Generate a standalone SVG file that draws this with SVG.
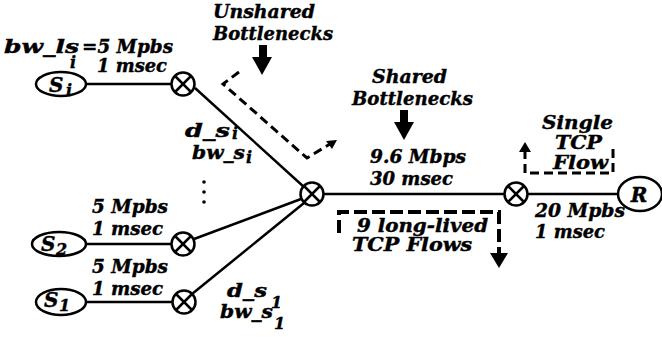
<svg xmlns="http://www.w3.org/2000/svg" width="662" height="337" viewBox="0 0 662 337">
<defs>
<style>
.t{font-family:"DejaVu Serif","Liberation Serif",serif;font-weight:bold;font-style:italic;font-size:18px;fill:#000;stroke:#000;stroke-width:0.4}
.sub{font-family:"DejaVu Serif","Liberation Serif",serif;font-weight:bold;font-style:italic;font-size:16px;fill:#000;stroke:#000;stroke-width:0.4}
.big{font-family:"DejaVu Serif","Liberation Serif",serif;font-weight:bold;font-style:italic;font-size:20px;fill:#000;stroke:#000;stroke-width:0.4}
.ln{stroke:#000;stroke-width:2.5;fill:none}
.node{stroke:#000;stroke-width:2.5;fill:#fff}
.rt{stroke:#000;stroke-width:2.5;fill:#fff}
.x{stroke:#000;stroke-width:2.5}
.dash{stroke:#000;stroke-width:3;fill:none;stroke-dasharray:9 5}
.dash2{stroke:#000;stroke-width:4;fill:none;stroke-dasharray:13 5}
</style>
<g id="router">
<circle class="rt" cx="0" cy="0" r="11.5"/>
<line class="x" x1="-7.5" y1="-7.5" x2="7.5" y2="7.5"/>
<line class="x" x1="7.5" y1="-7.5" x2="-7.5" y2="7.5"/>
</g>
</defs>
<rect width="662" height="337" fill="#fff"/>

<g id="connectors">
<line class="ln" x1="86" y1="84" x2="172" y2="84"/>
<line class="ln" x1="195" y1="88" x2="304" y2="187"/>
<line class="ln" x1="86" y1="244" x2="172" y2="244"/>
<line class="ln" x1="194" y1="239" x2="301" y2="199"/>
<line class="ln" x1="86" y1="302" x2="173" y2="302"/>
<line class="ln" x1="192" y1="294" x2="304" y2="203"/>
<line class="ln" x1="323" y1="194" x2="505" y2="194"/>
<line class="ln" x1="527" y1="194" x2="618" y2="194"/>
</g>

<g id="node-si">
<ellipse class="node" cx="61" cy="84" rx="25" ry="12"/>
<text class="big" x="49" y="92">S</text><text class="sub" x="66" y="96">i</text>
</g>
<g id="node-s2">
<ellipse class="node" cx="59" cy="244" rx="27" ry="12"/>
<text class="big" x="41" y="251">S</text><text class="sub" x="56" y="255">2</text>
</g>
<g id="node-s1">
<ellipse class="node" cx="61" cy="302" rx="25" ry="13"/>
<text class="big" x="44" y="307">S</text><text class="sub" x="59" y="311">1</text>
</g>
<g id="node-r">
<ellipse class="node" cx="640" cy="194" rx="22" ry="17"/>
<text class="big" x="639" y="202" text-anchor="middle">R</text>
</g>

<g id="router-si"><use href="#router" x="183" y="84"/></g>
<g id="router-s2"><use href="#router" x="183" y="244"/></g>
<g id="router-s1"><use href="#router" x="184" y="302"/></g>
<g id="router-c"><use href="#router" x="312" y="194"/></g>
<g id="router-r"><use href="#router" x="516" y="194"/></g>

<g id="dots">
<circle cx="204" cy="182" r="1.8"/>
<circle cx="204" cy="192" r="1.8"/>
<circle cx="204" cy="202" r="1.8"/>
</g>

<g id="unshared">
<text class="t" x="213" y="18" textLength="102" lengthAdjust="spacingAndGlyphs">Unshared</text>
<text class="t" x="213" y="40" textLength="120" lengthAdjust="spacingAndGlyphs">Bottlenecks</text>
<rect x="259" y="45" width="8" height="13"/>
<polygon points="252,57 272,57 262,75"/>
<path class="dash" d="M239,72 L223,84 L307,158 L330,144"/>
<polygon points="337,140 326,141 332,149"/>
</g>

<g id="shared">
<text class="t" x="372" y="83" textLength="75" lengthAdjust="spacingAndGlyphs">Shared</text>
<text class="t" x="352" y="105" textLength="121" lengthAdjust="spacingAndGlyphs">Bottlenecks</text>
<rect x="400" y="110" width="8" height="13"/>
<polygon points="394,122 414,122 404,140"/>
</g>

<g id="single">
<text class="t" x="542" y="129" textLength="71" lengthAdjust="spacingAndGlyphs">Single</text>
<text class="t" x="555" y="149" textLength="47" lengthAdjust="spacingAndGlyphs">TCP</text>
<text class="t" x="553" y="169" textLength="55" lengthAdjust="spacingAndGlyphs">Flow</text>
<path class="dash" d="M613,149 L613,173 L525,173 L525,151"/>
<polygon points="519,152 531,152 525,142"/>
</g>

<g id="longlived">
<path class="dash2" d="M339,233 L339,212 L499,212 L499,254"/>
<polygon points="490,253 508,253 499,268"/>
<text class="t" x="357" y="232" textLength="131" lengthAdjust="spacingAndGlyphs">9 long-lived</text>
<text class="t" x="352" y="251" textLength="120" lengthAdjust="spacingAndGlyphs">TCP Flows</text>
</g>

<g id="labels">
<text class="t" x="4" y="53" textLength="75" lengthAdjust="spacingAndGlyphs">bw_ls</text>
<text class="sub" x="70" y="68">i</text>
<text class="t" x="82" y="53" textLength="91" lengthAdjust="spacingAndGlyphs">=5 Mpbs</text>
<text class="t" x="97" y="72" textLength="70" lengthAdjust="spacingAndGlyphs">1 msec</text>
<text class="t" x="185" y="137" textLength="45" lengthAdjust="spacingAndGlyphs">d_s</text>
<text class="sub" x="232" y="139">i</text>
<text class="t" x="192" y="159" textLength="53" lengthAdjust="spacingAndGlyphs">bw_s</text>
<text class="sub" x="246" y="163">i</text>
<text class="t" x="370" y="163" textLength="96" lengthAdjust="spacingAndGlyphs">9.6 Mbps</text>
<text class="t" x="370" y="185" textLength="83" lengthAdjust="spacingAndGlyphs">30 msec</text>
<text class="t" x="535" y="217" textLength="90" lengthAdjust="spacingAndGlyphs">20 Mpbs</text>
<text class="t" x="535" y="238" textLength="70" lengthAdjust="spacingAndGlyphs">1 msec</text>
<text class="t" x="92" y="213" textLength="76" lengthAdjust="spacingAndGlyphs">5 Mpbs</text>
<text class="t" x="92" y="235" textLength="71" lengthAdjust="spacingAndGlyphs">1 msec</text>
<text class="t" x="92" y="273" textLength="76" lengthAdjust="spacingAndGlyphs">5 Mpbs</text>
<text class="t" x="92" y="295" textLength="71" lengthAdjust="spacingAndGlyphs">1 msec</text>
<text class="t" x="227" y="297" textLength="40" lengthAdjust="spacingAndGlyphs">d_s</text>
<text class="sub" x="271" y="308">1</text>
<text class="t" x="220" y="318" textLength="53" lengthAdjust="spacingAndGlyphs">bw_s</text>
<text class="sub" x="274" y="329">1</text>
</g>
</svg>
